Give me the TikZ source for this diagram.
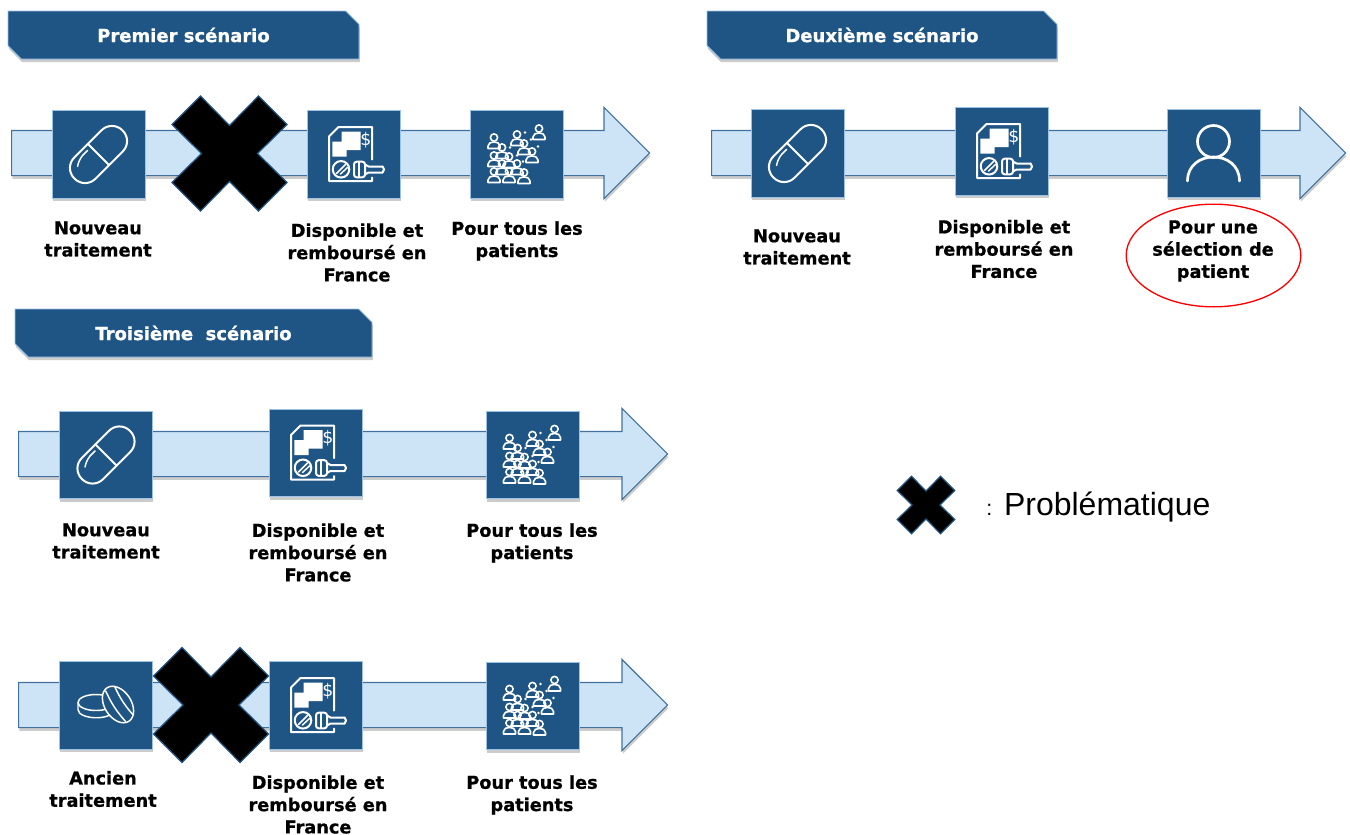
\documentclass[tikz,border=0pt]{standalone}
\usepackage{fontspec}
\setmainfont{DejaVu Sans}[BoldFeatures={FakeBold=0.8}]
\newfontfamily\legende{Liberation Sans}
\usetikzlibrary{shapes.arrows,shapes.misc,shapes.geometric,shadows}

\definecolor{bleu}{HTML}{1F5585}
\definecolor{bordure}{HTML}{9CC2E5}
\definecolor{ciel}{HTML}{CDE4F7}
\definecolor{trait}{HTML}{41719C}

\tikzset{
  ombre/.style={drop shadow={opacity=.4,shadow xshift=.6pt,shadow yshift=-2.4pt}},
  fleche/.style={single arrow,single arrow head extend=17.25pt,single arrow tip angle=90,
                 minimum height=#1*0.75pt,inner xsep=0pt,inner ysep=16.5pt,anchor=tail,
                 fill=ciel,draw=trait,line width=.9pt,ombre},
  carre/.style={rectangle,minimum width=69.75pt,minimum height=65.5pt,inner sep=0pt,
                fill=bleu,draw=bordure,line width=.6pt,ombre},
  titre/.style={chamfered rectangle,chamfered rectangle corners={north east,south west},
                chamfered rectangle xsep=5pt,chamfered rectangle ysep=5pt,
                minimum width=#1*0.75pt,minimum height=36pt,inner sep=0pt,
                fill=bleu,draw=bordure,line width=.7pt,ombre,text=white,
                font=\bfseries\fontsize{13.5}{16}\selectfont},
  etiquette/.style={align=center,inner sep=0pt,font=\bfseries\fontsize{13.3}{16.7}\selectfont},
  icone/.style={draw=white,line width=1.5pt,line cap=round,line join=round},
  pilule/.pic={
    \draw [icone,rotate=45,rounded corners=11pt] (-34,-15) rectangle (34,15);
    \draw [icone,rotate=45] (0,-15) -- (0,15);
    \draw [icone,line width=1.1pt] (-11,-4) -- (-16,1) to[bend right=12] (-21,12);
  },
  ordonnance/.pic={
    \draw [icone] (18.5,5) -- (18.5,-27.5) -- (-15,-27.5) -- (-24.5,-18) -- (-24.5,26.5) -- (18.5,26.5) -- (18.5,23);
    \fill [white] (-11.8,-22.8) -- (7.2,-22.8) -- (7.2,-4.5) -- (-6.8,-4.5) -- (-6.8,2.2) -- (-21.2,2.2) -- (-21.2,-12.8) -- (-11.8,-12.8) -- cycle;
    \node [text=white,inner sep=0pt,font=\fontsize{13}{13}\selectfont] (dollar) at (12.5,-14.5) {\$};
    \draw [icone] (-12.5,14.8) circle[radius=6.2pt];
    \draw [icone,line width=1.1pt] (-17,19) -- (-8,10) (-13,19.5) -- (-6,13);
    \draw [icone,rounded corners=2pt] (0.5,7.2) rectangle (11.5,22.8);
    \draw [icone,line width=1.1pt] (5.5,7.5) -- (5.5,22.5);
    \draw [icone] (11.5,10) -- (15,12) -- (29,12) (11.5,20) -- (15,18) -- (29,18);
    \draw [icone] (29,12) to[bend left=60] (29,18);
  },
  bonhomme/.pic={
    \draw [icone,line width=1.2pt] (0,-4) circle[radius=2.7pt];
    \draw [icone,line width=1.2pt] (-6,7) -- (-6,4.5) .. controls (-6,-1) and (6,-1) .. (6,4.5) -- (6,7) -- cycle;
  },
  foule/.pic={
    \pic at (-23,-13) {bonhomme};
    \pic at (0,-16) {bonhomme};
    \pic at (22,-22) {bonhomme};
    \pic at (7,-7) {bonhomme};
    \pic at (-15,-3) {bonhomme};
    \pic at (15,1) {bonhomme};
    \pic at (-23,5) {bonhomme};
    \pic at (-8,6) {bonhomme};
    \pic at (0,13) {bonhomme};
    \pic at (-15,13) {bonhomme};
    \pic at (-23,21) {bonhomme};
    \pic at (-8,21) {bonhomme};
    \pic at (7,22) {bonhomme};
    \fill [white] (8,-22) circle[radius=1pt] (14,-15) circle[radius=1pt] (21,-8) circle[radius=1pt]
                  (-7,-7) circle[radius=1pt] (0,1) circle[radius=1pt] (6,7) circle[radius=1pt];
  },
  patient/.pic={
    \draw [icone,line width=2pt] (0,-12) circle[radius=12pt];
    \draw [icone,line width=2pt] (-26,27.5) .. controls (-26,-4.5) and (26,-4.5) .. (26,27.5);
  },
  comprimes/.pic={
    \draw [icone,line width=1.1pt,fill=bleu] (-28,-3) -- (-28,4) .. controls (-28,14) and (6,16) .. (8,4) -- (8,-3);
    \draw [icone,line width=1.1pt,fill=bleu] (-10,-3) ellipse[x radius=13.5pt,y radius=6pt];
    \begin{scope}[shift={(12,-1)},rotate=-57]
      \draw [icone,line width=1.1pt,fill=bleu] (0,0) ellipse[x radius=15pt,y radius=10pt];
      \draw [icone,line width=1.1pt] (-17,-7) to[bend right=8] (17,-7) (-18,3) to[bend right=8] (18,3);
    \end{scope}
  },
  croix/.pic={
    \draw [fill=black,draw=bleu,line width=.9pt] (-29,-57.5) -- (0,-28) -- (29,-57.5) -- (57.5,-29) -- (28,0) -- (57.5,29) -- (29,57.5) -- (0,28) -- (-29,57.5) -- (-57.5,29) -- (-28,0) -- (-57.5,-29) -- cycle;
  },
}

\begin{document}
\begin{tikzpicture}[x=0.75pt,y=-0.75pt]

\useasboundingbox (0,0) rectangle (1350,835);

% Draw the first scenario
\node [titre=351] at (183.5,35) (titre1) {Premier scénario};
\node [fleche=638] at (11,153) (fleche1) {};
\node [carre] at (98.5,154.5) (med1) {};
\node [carre] at (353.5,154.5) (doc1) {};
\node [carre] at (517,154.5) (pop1) {};
\pic at (med1) {pilule};
\pic at (doc1) {ordonnance};
\pic at (pop1) {foule};
\pic at (229.5,153.5) {croix};
\node [etiquette] at (98,239) (txt1a) {Nouveau\\traitement};
\node [etiquette] at (357,252.5) (txt1b) {Disponible et\\remboursé en\\France};
\node [etiquette] at (517,241) (txt1c) {Pour tous les\\patients};

% Draw the second scenario
\node [titre=350] at (882,35) (titre2) {Deuxième scénario};
\node [fleche=634] at (711,153) (fleche2) {};
\node [carre] at (797.5,153.5) (med2) {};
\node [carre] at (1001.5,151.5) (doc2) {};
\node [carre] at (1213.5,153.5) (pop2) {};
\pic at (med2) {pilule};
\pic at (doc2) {ordonnance};
\pic at (pop2) {patient};
\node [etiquette] at (797,247) (txt2a) {Nouveau\\traitement};
\node [etiquette] at (1004,249) (txt2b) {Disponible et\\remboursé en\\France};
\node [ellipse,draw=red,line width=1pt,minimum width=131pt,minimum height=77pt,inner sep=0pt] at (1213.5,255.5) (cercle) {};
\node [etiquette] at (1213,251) (txt2c) {Pour une\\sélection de\\patient};

% Draw the third scenario
\node [titre=357] at (193.5,333) (titre3) {Troisième\ \ scénario};
\node [fleche=649] at (18,454) (fleche3) {};
\node [carre] at (106,455) (med3) {};
\node [carre] at (315.5,453) (doc3) {};
\node [carre] at (532.5,455) (pop3) {};
\pic at (med3) {pilule};
\pic at (doc3) {ordonnance};
\pic at (pop3) {foule};
\node [etiquette] at (106,541) (txt3a) {Nouveau\\traitement};
\node [etiquette] at (318,552.5) (txt3b) {Disponible et\\remboursé en\\France};
\node [etiquette] at (532,543) (txt3c) {Pour tous les\\patients};

% Draw the last row
\node [fleche=649] at (18,705) (fleche4) {};
\node [carre] at (106,705.5) (med4) {};
\node [carre] at (315.5,705.5) (doc4) {};
\node [carre] at (532.5,706) (pop4) {};
\pic at (med4) {comprimes};
\pic at (doc4) {ordonnance};
\pic at (pop4) {foule};
\pic at (211,705) {croix};
\node [etiquette] at (103,789) (txt4a) {Ancien\\traitement};
\node [etiquette] at (318,804.5) (txt4b) {Disponible et\\remboursé en\\France};
\node [etiquette] at (532,795) (txt4c) {Pour tous les\\patients};

% Draw the legend
\pic [scale=.5] at (926,505) {croix};
\node [anchor=west,inner sep=0pt,font=\legende\fontsize{24}{28}\selectfont] at (986,507) (legende1) {{\fontsize{16}{28}\selectfont:} Problématique};

\end{tikzpicture}
\end{document}
